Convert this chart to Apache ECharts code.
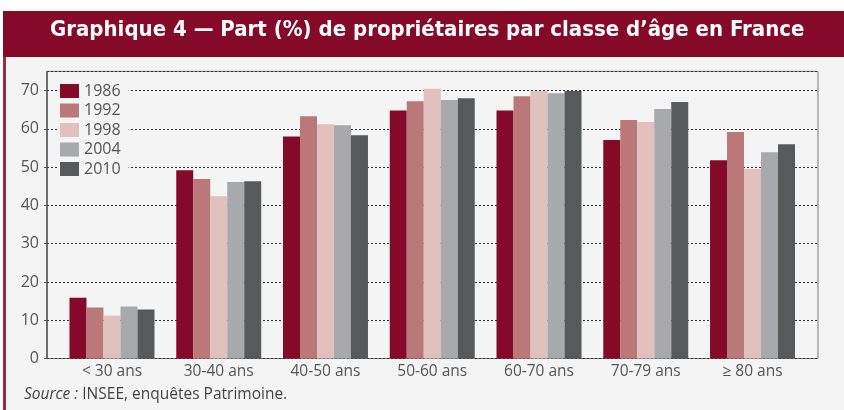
<!DOCTYPE html>
<html lang="fr">
<head>
    <meta charset="UTF-8">
    <title>Part de propriétaires par classe d'âge</title>
    <script src="https://cdn.jsdelivr.net/npm/echarts@6/dist/echarts.min.js"></script>
    <style>
        body { margin: 0; background: #ffffff; }
    </style>
</head>
<body>

<div id="main" style="width: 844px;height:410px;"></div>

<script>
    // classes d'âge
    var categories = ['< 30 ans', '30-40 ans', '40-50 ans', '50-60 ans', '60-70 ans', '70-79 ans', '≥ 80 ans'];
    var years = ['1986', '1992', '1998', '2004', '2010'];

    // part de propriétaires (%)
    var v1986 = [15.9, 49.2, 58.0, 64.8, 64.8, 57.1, 51.8];
    var v1992 = [13.3, 46.9, 63.3, 67.2, 68.5, 62.3, 59.2];
    var v1998 = [11.2, 42.4, 61.2, 70.5, 69.9, 61.8, 49.5];
    var v2004 = [13.6, 46.1, 60.9, 67.5, 69.3, 65.2, 53.9];
    var v2010 = [12.8, 46.3, 58.3, 68.0, 69.9, 67.0, 56.0];

    var colors = ['#850a2a', '#ba7878', '#e0c1be', '#a8a9ac', '#58595b'];
    var allValues = [v1986, v1992, v1998, v2004, v2010];

    var labelFont = '"Open Sans", sans-serif';

    var mychart = echarts.init(document.getElementById('main'));

    var series = years.map(function (y, i) {
        return {
            name: y,
            type: 'bar',
            xAxisIndex: 1,
            yAxisIndex: 1,
            barGap: 0,
            barCategoryGap: '20.4%',
            itemStyle: {color: colors[i]},
            data: allValues[i]
        };
    });

    var option = {
        animation: false,
        textStyle: {fontFamily: labelFont},
        graphic: [
            // fond du cadre
            {type: 'rect', shape: {x: 6, y: 57, width: 840, height: 360}, style: {fill: '#f4f4f4'}, z: -10},
            {type: 'rect', shape: {x: 3, y: 57, width: 3, height: 360}, style: {fill: '#9b2a45'}, z: -9},
            // bandeau titre
            {type: 'rect', shape: {x: 3, y: 11, width: 845, height: 46}, style: {fill: '#850a2a'}, z: -9},
            {
                type: 'text', left: 50, top: 19, z: 10,
                style: {
                    text: 'Graphique 4 — Part (%) de propriétaires par classe d’âge en France',
                    fill: '#ffffff',
                    font: 'bold 22px "DejaVu Sans Condensed"'
                }
            },
            {
                type: 'text', left: 24, top: 387, z: 10,
                style: {
                    text: '{i|Source :} INSEE, enquêtes Patrimoine.',
                    fill: '#444444',
                    font: '15.5px ' + labelFont,
                    rich: {
                        i: {fontStyle: 'italic', fontSize: 15.5, fontFamily: labelFont, fill: '#444444'}
                    }
                }
            }
        ],
        legend: {
            data: years,
            orient: 'vertical',
            left: 58,
            top: 81,
            icon: 'rect',
            itemWidth: 19,
            itemHeight: 14,
            itemGap: 3.5,
            padding: [2, 8, 2, 2],
            backgroundColor: '#f4f4f4',
            textStyle: {fontSize: 16, color: '#555555', fontFamily: labelFont},
            z: 5
        },
        grid: [
            // cadre et lignes de grille
            {left: 47, right: 26, top: 71.4, bottom: 51.5, show: true, borderColor: '#777777', borderWidth: 1, z: 0},
            // barres
            {left: 58.6, right: 38.1, top: 71.4, bottom: 51.5}
        ],
        xAxis: [
            {type: 'value', gridIndex: 0, show: false, min: 0, max: 1},
            {
                type: 'category',
                gridIndex: 1,
                data: categories,
                axisLine: {show: false},
                axisTick: {show: false},
                axisLabel: {fontSize: 15.5, color: '#555555', margin: 5, interval: 0}
            }
        ],
        yAxis: [
            {
                type: 'value',
                gridIndex: 0,
                min: 0,
                max: 75,
                interval: 10,
                axisLine: {show: true, lineStyle: {color: '#555555', width: 1.5}},
                axisTick: {show: true, length: 3, lineStyle: {color: '#555555'}},
                axisLabel: {fontSize: 16, color: '#555555', margin: 8, showMaxLabel: false},
                splitLine: {lineStyle: {color: '#333333', type: [2, 2], width: 1}}
            },
            {type: 'value', gridIndex: 1, min: 0, max: 75, show: false, splitLine: {show: false}}
        ],
        series: series
    };

    mychart.setOption(option);
</script>
</body>
</html>
